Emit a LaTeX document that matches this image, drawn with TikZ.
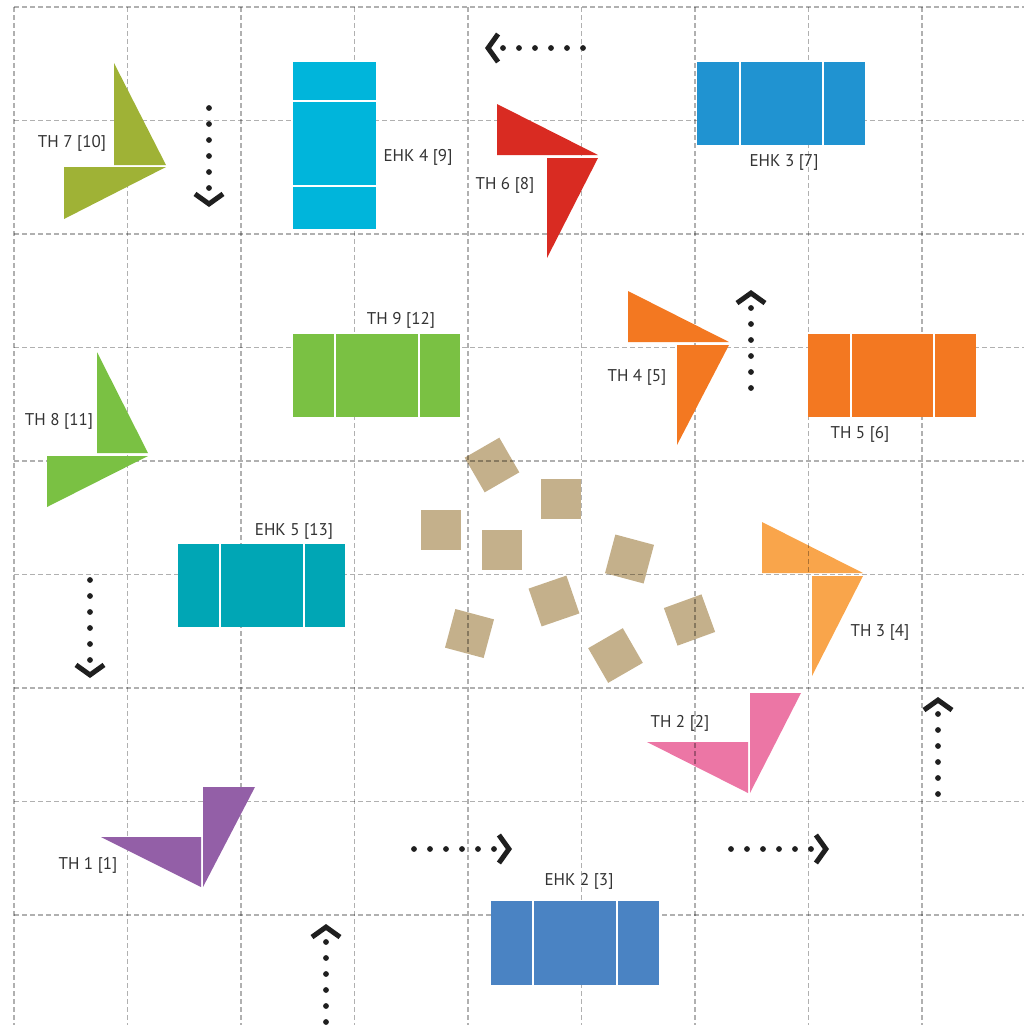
\documentclass[tikz,border=0pt]{standalone}
\usepackage{fontspec}
\setmainfont{PT Sans}
\usetikzlibrary{arrows.meta}

\definecolor{gridgray}{HTML}{B0B0B0}
\definecolor{tagtext}{HTML}{333333}
\definecolor{olive}{HTML}{9FB236}
\definecolor{cyanbox}{HTML}{00B5DB}
\definecolor{redtri}{HTML}{D92B22}
\definecolor{bluebox}{HTML}{2093D1}
\definecolor{leaf}{HTML}{7AC143}
\definecolor{orangebox}{HTML}{F37821}
\definecolor{tealbox}{HTML}{00A6B5}
\definecolor{sand}{HTML}{C4B08B}
\definecolor{apricot}{HTML}{F9A54B}
\definecolor{pinktri}{HTML}{EC76A5}
\definecolor{purpletri}{HTML}{935FA7}
\definecolor{steelbox}{HTML}{4A83C3}

\begin{document}
\begin{tikzpicture}[x=0.5pt,y=-0.5pt,
	gridline/.style={ draw=gridgray, line width=0.6pt, dash pattern=on 2.5pt off 1.5pt, blend mode=multiply },
	divider/.style={ draw=white, line width=1pt },
	tag/.style={ text=tagtext, font=\fontsize{8.5}{10}\selectfont, inner sep=0pt },
	tile/.style={ fill=sand, minimum size=20pt, inner sep=0pt },
	flow/.style={ draw=black!88, line width=2.9pt, line cap=round, dash pattern=on 0pt off 8pt, -{Straight Barb[length=5pt,width=14pt,line width=2.5pt]} }
]
\useasboundingbox (0,0) rectangle (1024,1025);

% shapes that the grid shows through
\node[tile, rotate=30] (sq1) at (492,465) {};
\node[tile] (sq2) at (561,499) {};
\node[tile] (sq3) at (441,530) {};
\node[tile] (sq4) at (502,550) {};
\node[tile, rotate=-15] (sq5) at (629.5,559) {};
\node[tile, rotate=19] (sq6) at (554,601) {};
\node[tile, rotate=-15] (sq7) at (469.5,633.5) {};
\node[tile, rotate=30] (sq8) at (615.5,655.5) {};
\node[tile, rotate=20] (sq9) at (689.5,620) {};

% TH 3
\fill[apricot] (762,522) to (762,573) to (863,573) -- cycle;
\fill[apricot] (812,576) to (863,576) to (812,676) -- cycle;
\node[tag] (th3) at (880,632) {TH 3 [4]};

% TH 2
\fill[pinktri] (647,742) to (748,742) to (748,793) -- cycle;
\fill[pinktri] (750,693) to (801,693) to (750,793) -- cycle;
\node[tag] (th2) at (680,723) {TH 2 [2]};

% grid
\draw[gridline] (14,7) to (14,1025);
\draw[gridline] (127.5,7) to (127.5,1025);
\draw[gridline] (241,7) to (241,1025);
\draw[gridline] (354.5,7) to (354.5,1025);
\draw[gridline] (468,7) to (468,1025);
\draw[gridline] (581.5,7) to (581.5,1025);
\draw[gridline] (695,7) to (695,1025);
\draw[gridline] (808.5,7) to (808.5,1025);
\draw[gridline] (922,7) to (922,1025);
\draw[gridline] (14,7) to (1024,7);
\draw[gridline] (14,120.5) to (1024,120.5);
\draw[gridline] (14,234) to (1024,234);
\draw[gridline] (14,347.5) to (1024,347.5);
\draw[gridline] (14,461) to (1024,461);
\draw[gridline] (14,574.5) to (1024,574.5);
\draw[gridline] (14,688) to (1024,688);
\draw[gridline] (14,801.5) to (1024,801.5);
\draw[gridline] (14,915) to (1024,915);

% TH 7
\fill[olive] (114,63) to (114,165) to (166,165) -- cycle;
\fill[olive] (64,167) to (166,167) to (64,219) -- cycle;
\node[tag] (th7) at (72,143) {TH 7 [10]};

% EHK 4
\fill[cyanbox] (293,62) rectangle (376,229);
\draw[divider] (293,101) to (376,101);
\draw[divider] (293,186) to (376,186);
\node[tag] (ehk4) at (418,157) {EHK 4 [9]};

% TH 6
\fill[redtri] (497,104) to (497,155) to (598,155) -- cycle;
\fill[redtri] (547,158) to (598,158) to (547,258) -- cycle;
\node[tag] (th6) at (505,185) {TH 6 [8]};

% EHK 3
\fill[bluebox] (697,62) rectangle (865,145);
\draw[divider] (740,62) to (740,145);
\draw[divider] (823,62) to (823,145);
\node[tag] (ehk3) at (784,162) {EHK 3 [7]};

% TH 9
\fill[leaf] (293,334) rectangle (460,417);
\draw[divider] (335,334) to (335,417);
\draw[divider] (419,334) to (419,417);
\node[tag] (th9) at (401,320) {TH 9 [12]};

% TH 4
\fill[orangebox] (628,291) to (628,342) to (729,342) -- cycle;
\fill[orangebox] (677,345) to (729,345) to (677,445) -- cycle;
\node[tag] (th4) at (637,377) {TH 4 [5]};

% TH 5
\fill[orangebox] (808,334) rectangle (976,417);
\draw[divider] (851,334) to (851,417);
\draw[divider] (934,334) to (934,417);
\node[tag] (th5) at (860,434) {TH 5 [6]};

% TH 8
\fill[leaf] (97,352) to (97,453) to (148,453) -- cycle;
\fill[leaf] (47,456) to (148,456) to (47,507) -- cycle;
\node[tag] (th8) at (59,421) {TH 8 [11]};

% EHK 5
\fill[tealbox] (178,544) rectangle (345,627);
\draw[divider] (220,544) to (220,627);
\draw[divider] (304,544) to (304,627);
\node[tag] (ehk5) at (294,531) {EHK 5 [13]};

% TH 1
\fill[purpletri] (101,837) to (201,837) to (201,887) -- cycle;
\fill[purpletri] (203,787) to (255,787) to (203,887) -- cycle;
\node[tag] (th1) at (88,865) {TH 1 [1]};

% EHK 2
\fill[steelbox] (491,901) rectangle (659,985);
\draw[divider] (533,901) to (533,985);
\draw[divider] (617,901) to (617,985);
\node[tag] (ehk2) at (579,881) {EHK 2 [3]};

% moves
\coordinate (m1s) at (209,108);  \coordinate (m1e) at (209,207);
\coordinate (m2s) at (583,48);   \coordinate (m2e) at (485,48);
\coordinate (m3s) at (751,388);  \coordinate (m3e) at (751,290);
\coordinate (m4s) at (90,580);   \coordinate (m4e) at (90,678);
\coordinate (m5s) at (938,794);  \coordinate (m5e) at (938,697);
\coordinate (m6s) at (414,849);  \coordinate (m6e) at (512,849);
\coordinate (m7s) at (731,849);  \coordinate (m7e) at (829,849);
\coordinate (m8s) at (326,1022); \coordinate (m8e) at (326,924);
\draw[flow] (m1s) to (m1e);
\draw[flow] (m2s) to (m2e);
\draw[flow] (m3s) to (m3e);
\draw[flow] (m4s) to (m4e);
\draw[flow] (m5s) to (m5e);
\draw[flow] (m6s) to (m6e);
\draw[flow] (m7s) to (m7e);
\draw[flow] (m8s) to (m8e);

\end{tikzpicture}
\end{document}
